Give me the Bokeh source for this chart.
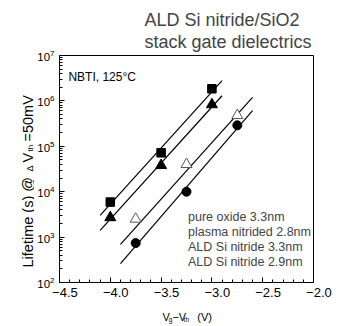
import numpy as np
from bokeh.plotting import figure
from bokeh.layouts import row, column
from bokeh.models import Legend, LegendItem, FixedTicker, Range1d
from bokeh.core.properties import value
from bokeh.embed import file_html
from bokeh.resources import INLINE

# ---- data ----
v_a = [-4.0, -3.5, -3.0]          # stress voltage for pure oxide / ALD 3.3nm
v_b = [-3.75, -3.25, -2.75]       # stress voltage for plasma / ALD 2.9nm
pure_oxide = [5.9e3, 7.2e4, 1.85e6]
ald_33 = [2.7e3, 3.8e4, 8.3e5]
plasma = [7.4e2, 1.0e4, 2.9e5]
ald_29 = [2.5e3, 4.0e4, 4.8e5]

fit_x_a = [-4.1, -2.9]
fit_x_b = [-3.9, -2.6]
fit_pure = [3.0e3, 2.8e6]
fit_ald33 = [1.4e3, 1.3e6]
fit_ald29 = [6.9e2, 1.2e6]
fit_plasma = [2.6e2, 6.1e5]

x_ticks = [-4.5, -4.0, -3.5, -3.0, -2.5, -2.0]
x_tick_labels = ["−4.5", "−4.0", "−3.5", "−3.0", "−2.5", "−2.0"]
x_minor = [round(-4.5 + 0.1 * i, 2) for i in range(26)]
y_ticks = [1e2, 1e3, 1e4, 1e5, 1e6, 1e7]
y_minor = [m * 10.0 ** e for e in range(2, 7) for m in range(2, 10)]

series_names = ["pure oxide 3.3nm", "plasma nitrided 2.8nm",
                "ALD Si nitride 3.3nm", "ALD Si nitride 2.9nm"]
title_text = "ALD Si nitride/SiO2\nstack gate dielectrics"
note_text = "NBTI, 125°C"

FONT = "Liberation Sans"
W, H = 340, 326
WL = 34            # width of the strip that holds the y-axis title
HP = 302           # height of the main plot canvas
FL, FB, FT, FR = 57, 283, 55, 313   # frame edges in page pixels

# ---------------- main plot ----------------
p = figure(width=W - WL, height=HP, x_range=(-4.5, -2.0), y_range=(1e2, 1e7),
           y_axis_type="log", output_backend="svg", toolbar_location=None,
           min_border_left=FL - WL, min_border_right=W - FR, min_border_top=FT,
           min_border_bottom=HP - FB)
p.grid.visible = False
p.outline_line_color = "black"
p.outline_line_width = 1
p.background_fill_color = "white"
p.border_fill_color = "white"

p.title.text = title_text
p.title.align = "left"
p.title.offset = 142 - FL
p.title.text_font = FONT
p.title.text_font_size = "18px"
p.title.text_font_style = "normal"
p.title.text_line_height = 1.1
p.title.standoff = 8

for ax in (p.xaxis[0], p.yaxis[0]):
    ax.axis_line_color = "black"
    ax.major_tick_in = 5
    ax.major_tick_out = 0
    ax.minor_tick_in = 3
    ax.minor_tick_out = 0
    ax.major_tick_line_color = "black"
    ax.minor_tick_line_color = "black"
    ax.major_label_text_font = FONT
    ax.major_label_text_color = "black"

p.xaxis.ticker = FixedTicker(ticks=x_ticks, minor_ticks=x_minor)
p.xaxis.major_label_overrides = {t: "\u2007\u2008" + s for t, s in zip(x_ticks, x_tick_labels)}
p.xaxis.major_label_text_font_size = "13px"
p.xaxis.major_label_standoff = 2

p.yaxis.ticker = FixedTicker(ticks=y_ticks, minor_ticks=y_minor)
p.yaxis.major_label_text_font_size = "11.5px"
p.yaxis.major_label_standoff = 5

# fit lines
for fx, fy in ((fit_x_a, fit_pure), (fit_x_a, fit_ald33), (fit_x_b, fit_ald29), (fit_x_b, fit_plasma)):
    p.line(fx, fy, line_color="black", line_width=1.2)

# data points
p.scatter(v_a, pure_oxide, marker="square", size=8.5, fill_color="black", line_color="black")
p.scatter(v_b, plasma, marker="circle", size=9, fill_color="black", line_color="black")
p.scatter(v_a, ald_33, marker="triangle", size=11, fill_color="black", line_color="black")
p.scatter(v_b, ald_29, marker="triangle", size=11, fill_color="white", line_color="#555555", line_width=1)

# legend-only glyphs (smaller markers, as in the reference legend)
l1 = p.scatter([], [], marker="square", size=6, fill_color="black", line_color="black")
l2 = p.scatter([], [], marker="circle", size=7, fill_color="black", line_color="black")
l3 = p.scatter([], [], marker="triangle", size=8, fill_color="black", line_color="black")
l4 = p.scatter([], [], marker="triangle", size=8, fill_color="white", line_color="#999999")

legend = Legend(items=[LegendItem(label=n, renderers=[r]) for n, r in zip(series_names, [l1, l2, l3, l4])],
                location=(168 - FL, FB - 270), padding=0, margin=0, spacing=1,
                glyph_width=10, glyph_height=12, label_height=12, label_standoff=8,
                label_text_font=FONT, label_text_font_size="12.5px",
                border_line_color=None, background_fill_alpha=0)
p.add_layout(legend, "center")

# "NBTI, 125°C" inside the frame, placed in data space of the plot
p.text(x=[-4.5 + (66 - FL) / 102.4], y=[10 ** (7 - (76 - FT) / 45.4)], text=[note_text],
       text_font=value(FONT), text_font_size=value("12px"), text_baseline="alphabetic")


def strip(width, height):
    f = figure(width=width, height=height, x_range=Range1d(0, width), y_range=Range1d(0, height),
               output_backend="svg", toolbar_location=None, min_border=0,
               x_axis_location=None, y_axis_location=None, outline_line_color=None)
    f.grid.visible = False
    f.background_fill_color = "white"
    f.border_fill_color = "white"
    return f


def put(f, x, y, t, size, angle=0.0):
    f.text(x=[x], y=[y], text=[t], angle=angle, text_font=value(FONT),
           text_font_size=value(size), text_baseline="alphabetic", text_align="left",
           text_color="black")


# ---------------- y-axis title strip (page coords: x, H - y) ----------------
# (rotated texts are positioned by the centre of their letters)
lf = strip(WL, H)
A = np.pi / 2
put(lf, 27.0, H - 267, "Lifetime (s) @", "14.5px", A)
put(lf, 29.5, H - 171, "Δ", "9px", A)
put(lf, 27.0, H - 162, "V", "14.5px", A)
put(lf, 29.8, H - 151, "th", "8px", A)
put(lf, 27.0, H - 141, "=50mV", "14.5px", A)

# ---------------- x-axis title strip (page coords: x - WL, H - y) ----------------
bf = strip(W - WL, H - HP)
put(bf, 158 - WL, H - 316, "V", "11px")
put(bf, 165.5 - WL, H - 318.5, "g", "6.5px")
put(bf, 170 - WL, H - 316, "−V", "11px")
put(bf, 183.5 - WL, H - 318.5, "th", "6.5px")
put(bf, 200 - WL, H - 316, "(V)", "11px")

layout = row(lf, column(p, bf, spacing=0), spacing=0)
open("out.html", "w").write(file_html(layout, INLINE))
